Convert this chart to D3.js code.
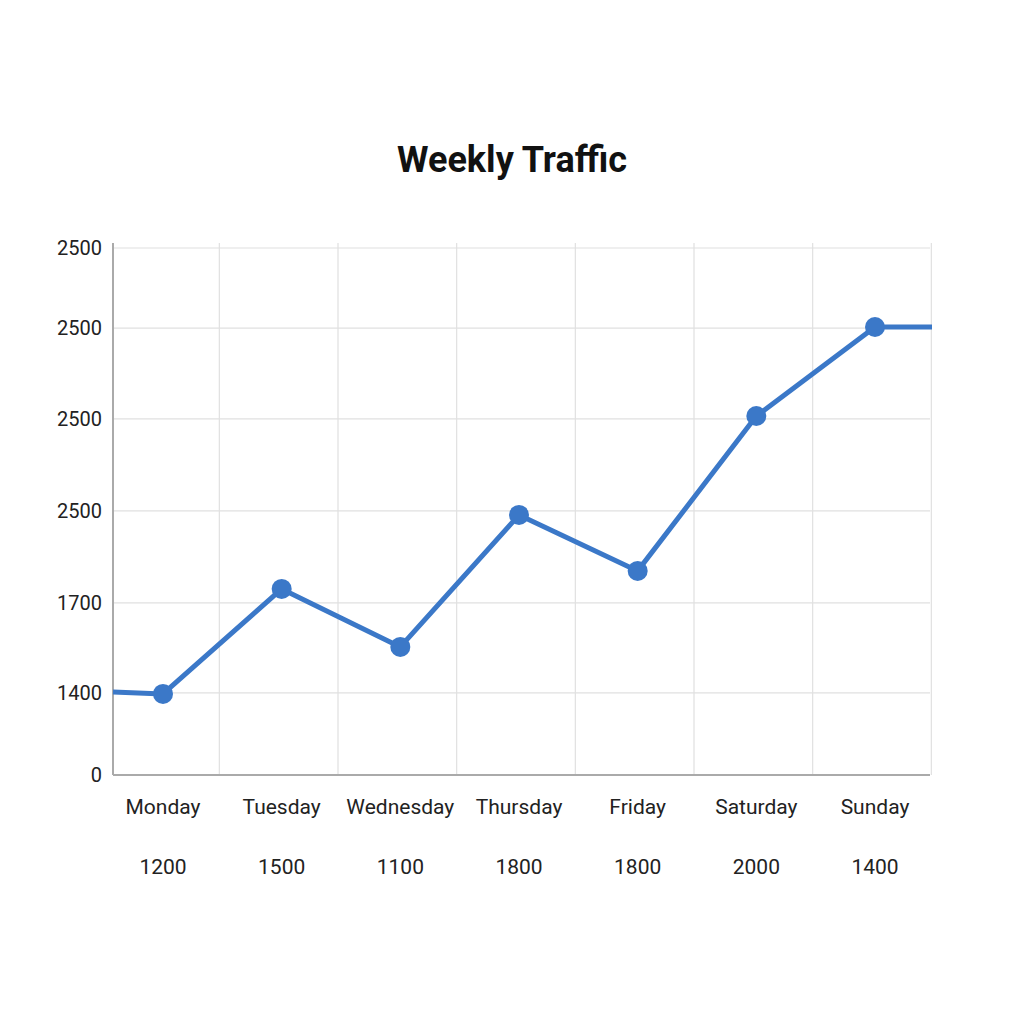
<!DOCTYPE html>
<html><head><meta charset="utf-8">
<script src="https://cdn.jsdelivr.net/npm/d3@7"></script>
<style>body{margin:0;background:#fff}</style></head>
<body><svg id="c" width="1024" height="1024"></svg>
<script>
const days = ["Monday","Tuesday","Wednesday","Thursday","Friday","Saturday","Sunday"];
const values = [400, 918, 632, 1283, 1007, 1771, 2210];
const bottomLabels = ["1200","1500","1100","1800","1800","2000","1400"];
const yTickValues = [0, 405, 849, 1303, 1757, 2205, 2600];
const yTickLabels = ["0","1400","1700","2500","2500","2500","2500"];
const leadValue = 410, tailValue = 2210;

const svg = d3.select("#c");
const font = "Roboto, 'Liberation Sans', Arial, sans-serif";
const x = d3.scalePoint().domain(days).range([163, 875]);
const step = x.step();
const y = d3.scaleLinear().domain([0, 2600]).range([775, 248]);
const left = 113, right = 930;

svg.append("text").attr("x", 512).attr("y", 172).attr("text-anchor","middle")
  .attr("font-family", font).attr("font-weight","bold").attr("font-size", 36).attr("fill","#111").text("Weekly Traffic");

// horizontal grid
svg.selectAll(".hg").data(yTickValues.slice(1)).enter().append("line")
  .attr("x1", left).attr("x2", right).attr("y1", d=>y(d)).attr("y2", d=>y(d))
  .attr("stroke","#e0e0e0").attr("stroke-width",1.2);
// vertical grid
const vg = days.map(d => x(d) + step/2 - 3);
svg.selectAll(".vg").data(vg).enter().append("line")
  .attr("x1", d=>d).attr("x2", d=>d).attr("y1", 243).attr("y2", 775)
  .attr("stroke","#e0e0e0").attr("stroke-width",1.2);
// axes
svg.append("line").attr("x1",left).attr("x2",left).attr("y1",243).attr("y2",775).attr("stroke","#aaa").attr("stroke-width",2);
svg.append("line").attr("x1",left).attr("x2",right).attr("y1",775).attr("y2",775).attr("stroke","#aaa").attr("stroke-width",2);

svg.selectAll(".yl").data(yTickValues).enter().append("text")
  .attr("x", 102).attr("y", d=>y(d)+7).attr("text-anchor","end")
  .attr("font-family", font).attr("font-size", 20).attr("fill","#222")
  .text((d,i)=>yTickLabels[i]);

svg.selectAll(".dl").data(days).enter().append("text")
  .attr("x", d=>x(d)).attr("y", 814).attr("text-anchor","middle")
  .attr("font-family", font).attr("font-size", 21).attr("fill","#222").text(d=>d);
svg.selectAll(".bl").data(days).enter().append("text")
  .attr("x", d=>x(d)).attr("y", 874).attr("text-anchor","middle")
  .attr("font-family", font).attr("font-size", 21).attr("fill","#222").text((d,i)=>bottomLabels[i]);

const pts = [[left, y(leadValue)]].concat(days.map((d,i)=>[x(d), y(values[i])])).concat([[right+2, y(tailValue)]]);
svg.append("path").attr("d", d3.line()(pts)).attr("fill","none")
  .attr("stroke","#3b78c8").attr("stroke-width",5).attr("stroke-linejoin","round");
svg.selectAll(".pt").data(days).enter().append("circle")
  .attr("cx", d=>x(d)).attr("cy", (d,i)=>y(values[i])).attr("r",10).attr("fill","#3b78c8");
</script></body></html>
